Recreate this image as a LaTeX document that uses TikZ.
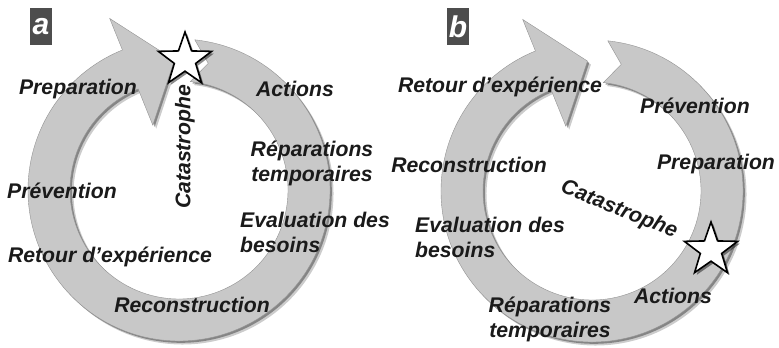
\documentclass[tikz,border=0pt]{standalone}
\usepackage{fontspec}
\setmainfont{Liberation Sans}
\definecolor{ringgray}{HTML}{C8C8C8}
\definecolor{txt}{HTML}{1A1A1A}
\definecolor{boxgray}{HTML}{4D4D4D}
\newcommand\cyclepath{(84:151) arc[start angle=84,end angle=-248,radius=151] -- (-248:185) -- (92:130) -- (-248:70) -- (-248:109) arc[start angle=-248,end angle=84,radius=109] -- (77:130) -- cycle}
\newcommand\starshape{(90:28) -- (126:11.2) -- (162:28) -- (198:11.2) -- (234:28) -- (270:11.2) -- (306:28) -- (342:11.2) -- (18:28) -- (54:11.2) -- cycle}
\tikzset{
  lab/.style={font=\fontsize{21.2}{25}\selectfont\bfseries\itshape, text=txt, inner sep=0pt, align=center},
  panellab/.style={fill=boxgray, text=white, minimum width=22, minimum height=37, inner sep=0pt, font=\fontsize{30}{30}\selectfont\bfseries\itshape},
  ringshade/.style={fill=black, opacity=#1, draw=none},
  ringfill/.style={fill=ringgray, draw=gray!85, line width=0.4},
  starfill/.style={fill=white, draw=black, line width=1.6, line join=miter}
}
\begin{document}
\begin{tikzpicture}[x=1pt,y=1pt]
\useasboundingbox (0,0) rectangle (779,348);
% ---------- panel a ----------
\begin{scope}[shift={(179,158)}]
  \path[ringshade=0.2, shift={(3.5,-3.5)}] \cyclepath;
  \path[ringshade=0.35, shift={(1.8,-1.8)}] \cyclepath;
  \path[ringfill] \cyclepath;
\end{scope}
\begin{scope}[shift={(185,288)}]
  \path[ringshade=0.45, shift={(2.2,-2.2)}] \starshape;
  \path[starfill] \starshape;
\end{scope}
\node[panellab] (pa) at (41,321.5) {a};
\node[lab] (prepA) at (78,259) {Preparation};
\node[lab] (actA) at (295,259) {Actions};
\node[lab, rotate=90] (catA) at (185,201) {Catastrophe};
\node[lab] (repA) at (312,185) {Réparations\\temporaires};
\node[lab] (prevA) at (62,157) {Prévention};
\node[lab, anchor=west, align=left] (evalA) at (240,116) {Evaluation des\\besoins};
\node[lab] (retA) at (110,91) {Retour d’expérience};
\node[lab] (recA) at (192,43) {Reconstruction};
% ---------- panel b ----------
\begin{scope}[shift={(592,157)}]
  \path[ringshade=0.2, shift={(3.5,-3.5)}] \cyclepath;
  \path[ringshade=0.35, shift={(1.8,-1.8)}] \cyclepath;
  \path[ringfill] \cyclepath;
\end{scope}
\begin{scope}[shift={(711,98)}]
  \path[ringshade=0.45, shift={(2.2,-2.2)}] \starshape;
  \path[starfill] \starshape;
\end{scope}
\node[panellab] (pb) at (458,321.5) {b};
\node[lab] (retB) at (500,261) {Retour d’expérience};
\node[lab] (prevB) at (695,242) {Prévention};
\node[lab] (recB) at (469,183) {Reconstruction};
\node[lab] (prepB) at (716,184) {Preparation};
\node[lab, rotate=-22] (catB) at (619,138) {Catastrophe};
\node[lab, anchor=west, align=left] (evalB) at (415,111) {Evaluation des\\besoins};
\node[lab] (actB) at (673,52) {Actions};
\node[lab] (repB) at (550,29) {Réparations\\temporaires};
\end{tikzpicture}
\end{document}
